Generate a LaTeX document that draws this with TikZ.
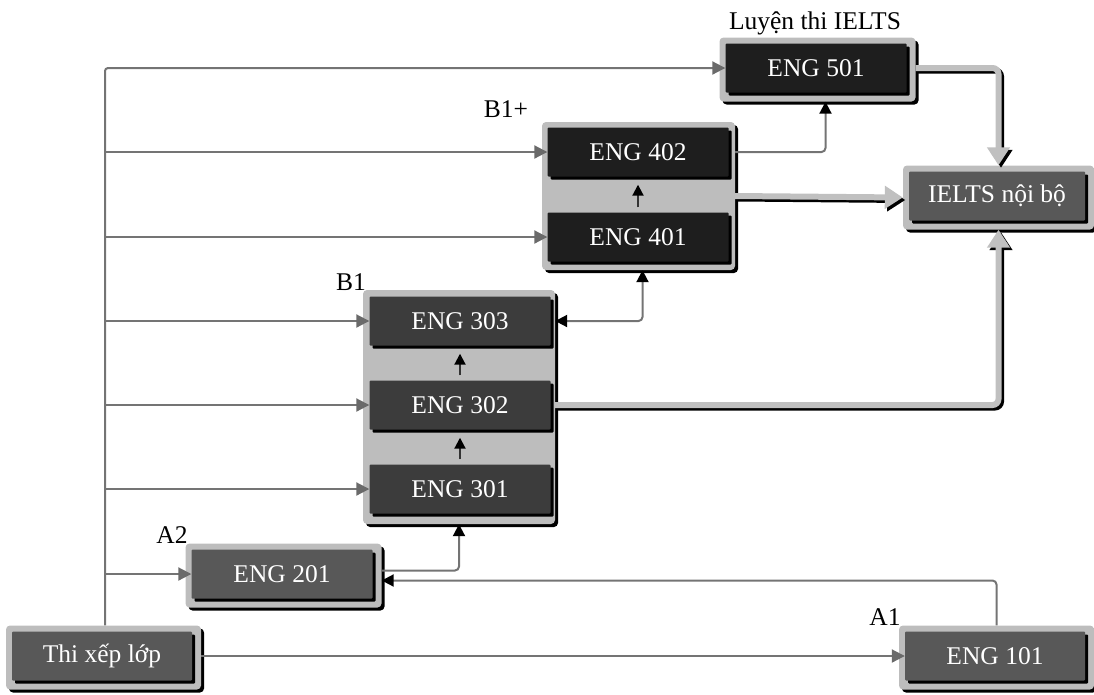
\documentclass[tikz,border=0pt]{standalone}
\usepackage{fontspec}
\setmainfont{Liberation Serif}
\usetikzlibrary{shadows,arrows.meta}
\definecolor{framegray}{HTML}{BDBDBD}
\definecolor{boxblack}{HTML}{1E1E1E}
\definecolor{boxdark}{HTML}{3C3C3C}
\definecolor{boxmid}{HTML}{585858}
\definecolor{linegray}{HTML}{747474}
\definecolor{tipgray}{HTML}{6A6A6A}
\definecolor{thickgray}{HTML}{C0C0C0}
\begin{document}
\begin{tikzpicture}[x=1pt,y=-1pt,
  frame/.style={fill=framegray, rounded corners=4pt, inner sep=0pt,
    minimum width=196pt, minimum height=64pt,
    drop shadow={shadow xshift=3pt,shadow yshift=-3pt,fill=black,opacity=1}},
  course/.style={rounded corners=1pt, text=white, inner sep=0pt,
    font=\fontsize{25.5}{30}\selectfont, minimum width=181pt, minimum height=49pt,
    drop shadow={shadow xshift=3pt,shadow yshift=-3pt,fill=black,opacity=1}},
  boxblk/.style={fill=boxblack},
  boxdrk/.style={fill=boxdark},
  boxmd/.style={fill=boxmid},
  lbl/.style={font=\fontsize{25.5}{30}\selectfont, inner sep=0pt, anchor=base},
  branch/.style={draw=linegray, line width=2pt, rounded corners=3pt,
    -{Triangle[length=13pt,width=13pt,fill=tipgray,color=tipgray]}},
  innerline/.style={draw=linegray, line width=2pt, rounded corners=4pt,
    -{Triangle[length=12pt,width=12pt,fill=black,color=black]}},
  uparrow/.style={draw=black!80, line width=2pt, shorten <=5pt, shorten >=8pt,
    -{Triangle[length=11pt,width=11pt,fill=black,color=black]}},
  thickarrow/.style={draw=thickgray, line width=6pt, rounded corners=6pt,
    -{Triangle[length=18pt,width=22pt,fill=thickgray,color=thickgray]},
    preaction={draw=black, line width=6pt,
      -{Triangle[length=18pt,width=22pt,fill=black,color=black]},
      transform canvas={xshift=2.5pt,yshift=-2.5pt}}}
]
\useasboundingbox (0,0) rectangle (1094,694);

% frames
\node[frame] (e501f) at (817.5,69.5) {};
\node[frame, minimum width=191pt] (ieltsf) at (998.5,197.5) {};
\node[frame, minimum width=193pt, minimum height=148pt] (B1pf) at (638.5,196) {};
\node[frame, minimum width=192pt, minimum height=234pt] (B1f) at (459,407) {};
\node[frame] (e201f) at (283.5,575.5) {};
\node[frame, minimum width=195pt] (thif) at (103.5,657.5) {};
\node[frame, minimum width=195pt] (e101f) at (996.5,657.5) {};

% course boxes
\node[course, boxblk] (e501) at (816,68) {ENG 501};
\node[course, boxmd, minimum width=176pt] (ielts) at (997,196) {IELTS nội bộ};
\node[course, boxblk] (e402) at (638,152) {ENG 402};
\node[course, boxblk] (e401) at (638,237) {ENG 401};
\node[course, boxdrk] (e303) at (460,321) {ENG 303};
\node[course, boxdrk] (e302) at (460,405) {ENG 302};
\node[course, boxdrk] (e301) at (460,489) {ENG 301};
\node[course, boxmd] (e201) at (282,574) {ENG 201};
\node[course, boxmd, minimum width=180pt] (thi) at (102,656) {Thi xếp lớp};
\node[course, boxmd, minimum width=180pt] (e101) at (995,656) {ENG 101};

% labels
\node[lbl] (lluyen) at (815,29) {Luyện thi IELTS};
\node[lbl] (lb1p) at (506,117) {B1+};
\node[lbl] (lb1) at (351,290) {B1};
\node[lbl] (la2) at (172,543) {A2};
\node[lbl] (la1) at (885,625) {A1};

% placement test trunk and branches
\coordinate (ttop) at (105,0);
\draw[branch] (ttop |- thif.north) |- (e501.west);
\foreach \n in {e402,e401,e303,e302,e301,e201}
  \draw[branch] (ttop |- \n.west) -- (\n.west);
\draw[branch] (thif.east |- thi.center) -- (e101.west);

% inner connectors
\draw[innerline] (e101f.north) |- ([yshift=-5pt]e201f.east);
\draw[innerline] ([yshift=5pt]e201f.east) -| (B1f.south);
\draw[uparrow] (e301.north) -- (e302.south);
\draw[uparrow] (e302.north) -- (e303.south);
\draw[uparrow] (e401.north) -- (e402.south);
\draw[innerline, {Triangle[length=12pt,width=12pt,fill=black,color=black]}-{Triangle[length=12pt,width=12pt,fill=black,color=black]}]
  (B1f.east |- e303.center) -| ([xshift=4pt]B1pf.south);
\draw[innerline] (B1pf.east |- e402.center) -| ([xshift=8pt]e501f.south);

% thick connectors to IELTS
\draw[thickarrow] (e501f.east |- e501.center) -| (ieltsf.north);
\draw[thickarrow] (B1pf.east) -- (ieltsf.west);
\draw[thickarrow] (B1f.east |- e302.center) -| (ieltsf.south);
\end{tikzpicture}
\end{document}
